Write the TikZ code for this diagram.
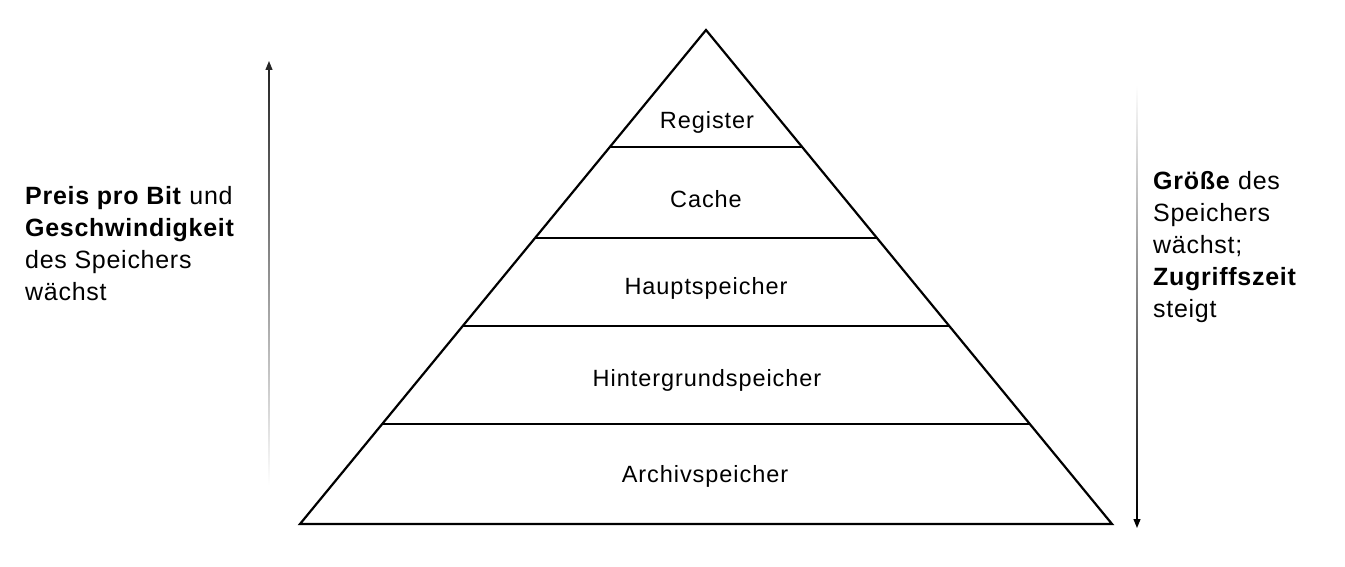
\documentclass[tikz,border=0pt]{standalone}
\usepackage{fontspec}
\setmainfont{Liberation Sans}
\usetikzlibrary{calc,arrows.meta}
\tikzset{
  pyr/.style={line width=2.2pt, line join=miter},
  lvl/.style={font=\fontsize{23.5}{27}\selectfont\addfontfeatures{LetterSpace=4}, inner sep=0pt},
  side/.style={font=\fontsize{25}{32}\selectfont\addfontfeatures{LetterSpace=2.9}, align=left, inner sep=0pt, anchor=north west},
}
\begin{document}
\begin{tikzpicture}[x=1pt,y=-1pt]
\useasboundingbox (0,0) rectangle (1345,567);
\coordinate (A) at (706,30);
\coordinate (L) at (300,524);
\coordinate (R) at (1112,524);
\draw[pyr] (A) -- (L) -- (R) -- cycle;
\foreach \n/\yy in {1/147,2/238,3/326,4/424}{
  \pgfmathsetmacro{\t}{(\yy-30)/494}
  \coordinate (l\n) at ($(A)!\t!(L)$);
  \coordinate (r\n) at ($(A)!\t!(R)$);
  \draw[pyr] (l\n) -- (r\n);
}
\node[lvl] (reg) at (707,122) {Register};
\node[lvl] (cache) at (706,199) {Cache};
\node[lvl] (haupt) at (706,288) {Hauptspeicher};
\node[lvl] (hint) at (707,380) {Hintergrundspeicher};
\node[lvl] (arch) at (705,476) {Archivspeicher};
% side texts
\node[side] (lt) at (25,186.5) {\textbf{Preis pro Bit} und\\\textbf{Geschwindigkeit}\\des Speichers\\wächst};
\node[side] (rt) at (1153,171.5) {\textbf{Größe} des\\Speichers\\wächst;\\\textbf{Zugriffszeit}\\steigt};
% left arrow (fading towards bottom)
\coordinate (la0) at (269,485);
\coordinate (la1) at (269,70);
\coordinate (la2) at (269,61);
\shade[top color=black!85, bottom color=white] ($(la0)+(-0.7,0)$) rectangle ($(la1)+(0.7,0)$);
\draw[-{Triangle[length=9pt,width=7pt]}, line width=1.2pt, black!85] (la1) -- (la2);
% right arrow (fading towards top)
\coordinate (ra0) at (1137,85);
\coordinate (ra1) at (1137,518);
\coordinate (ra2) at (1137,528);
\shade[top color=white, bottom color=black] ($(ra0)+(-0.7,0)$) rectangle ($(ra1)+(0.7,0)$);
\draw[-{Triangle[length=9pt,width=7pt]}, line width=1.2pt] (ra1) -- (ra2);
\end{tikzpicture}
\end{document}
